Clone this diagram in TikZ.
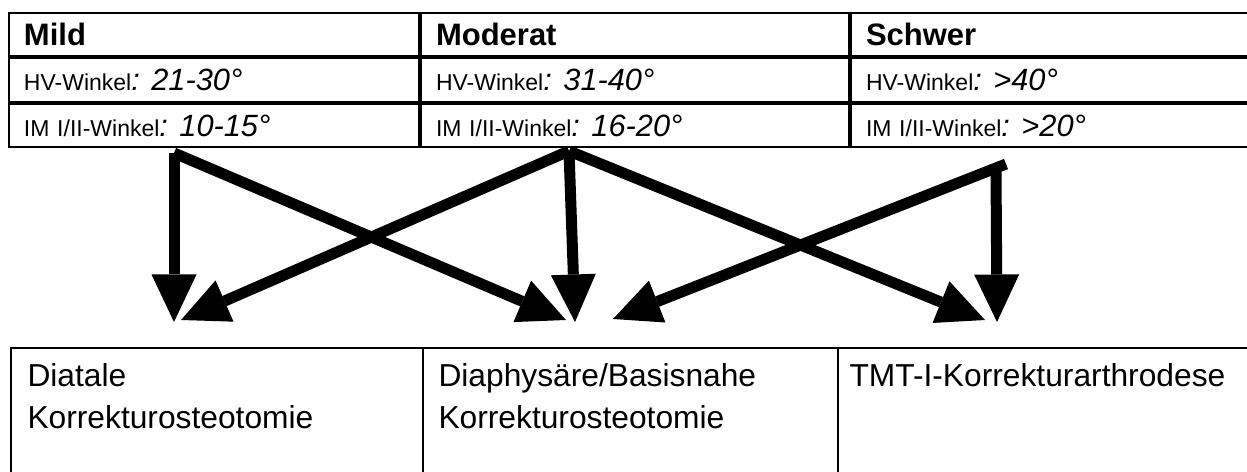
\documentclass[tikz,border=0pt]{standalone}
\usepackage{fontspec}
\setmainfont{Liberation Sans}
\usetikzlibrary{arrows.meta,positioning}

\newcommand{\wert}[1]{\textit{\fontsize{12.3}{13}\selectfont: #1}}

\tikzset{
	cell/.style={draw, line width=.8pt, anchor=north west, inner xsep=6pt,
		inner ysep=0pt, align=left, minimum height=17.4pt},
	kopf/.style={cell, font=\fontsize{12.4}{14}\selectfont\bfseries},
	krit/.style={cell, font=\fontsize{9.2}{11}\selectfont},
	ziel/.style={anchor=north west, inner sep=0pt, align=left,
		font=\fontsize{12.7}{16.8}\selectfont},
	pfeil/.style={line width=4.4pt,
		-{Triangle[length=19pt,width=18pt,line width=0pt]}}
}

\begin{document}
\begin{tikzpicture}[x=0.4pt, y=-0.4pt]
	\useasboundingbox (0,0) rectangle (1247,472);
	\clip (0,0) rectangle (1247,472);
	% Schweregrade
	\node[kopf, text width=152pt] (mild) at (8,12) {Mild};
	\node[kopf, text width=159.2pt, right=0pt of mild] (moderat) {Moderat};
	\node[kopf, text width=153.6pt, right=0pt of moderat] (schwer) {Schwer};
	\node[krit, text width=152pt, below=0pt of mild] (mildhv) {HV-Winkel\wert{21-30°}};
	\node[krit, text width=159.2pt, below=0pt of moderat] (modhv) {HV-Winkel\wert{31-40°}};
	\node[krit, text width=153.6pt, below=0pt of schwer] (schwhv) {HV-Winkel\wert{>40°}};
	\node[krit, text width=152pt, below=0pt of mildhv] (mildim) {IM I/II-Winkel\wert{10-15°}};
	\node[krit, text width=159.2pt, below=0pt of modhv] (modim) {IM I/II-Winkel\wert{16-20°}};
	\node[krit, text width=153.6pt, below=0pt of schwhv] (schwim) {IM I/II-Winkel\wert{>20°}};
	% Verfahren
	\draw[line width=.8pt] (11,500) |- (1260,348);
	\draw[line width=.8pt] (423,348) -- (423,500);
	\draw[line width=.8pt] (838,348) -- (838,500);
	\node[ziel] (distal) at (27,363) {Diatale\\Korrekturosteotomie};
	\node[ziel] (basis) at (438,363) {Diaphysäre/Basisnahe\\Korrekturosteotomie};
	\node[ziel] (tmt) at (849,363) {TMT-I-Korrekturarthrodese};
	% Pfeile
	\coordinate (mild-aus) at (174,153);
	\coordinate (mod-aus) at (569,151);
	\coordinate (schw-aus) at (996,168);
	\coordinate (schw-dia) at (1006,164);
	\coordinate (distal-ein) at (174,322);
	\coordinate (distal-dia) at (181,320);
	\coordinate (basis-ein) at (575,322);
	\coordinate (basis-li) at (566,320);
	\coordinate (basis-re) at (613,319);
	\coordinate (tmt-ein) at (997,322);
	\coordinate (tmt-dia) at (985,320);
	\draw[pfeil] (mild-aus) -- (distal-ein);
	\draw[pfeil] (mild-aus) -- (basis-li);
	\draw[pfeil] (mod-aus) -- (distal-dia);
	\draw[pfeil] (mod-aus) -- (basis-ein);
	\draw[pfeil] (mod-aus) -- (tmt-dia);
	\draw[pfeil] (schw-aus) -- (tmt-ein);
	\draw[pfeil] (schw-dia) -- (basis-re);
\end{tikzpicture}
\end{document}
